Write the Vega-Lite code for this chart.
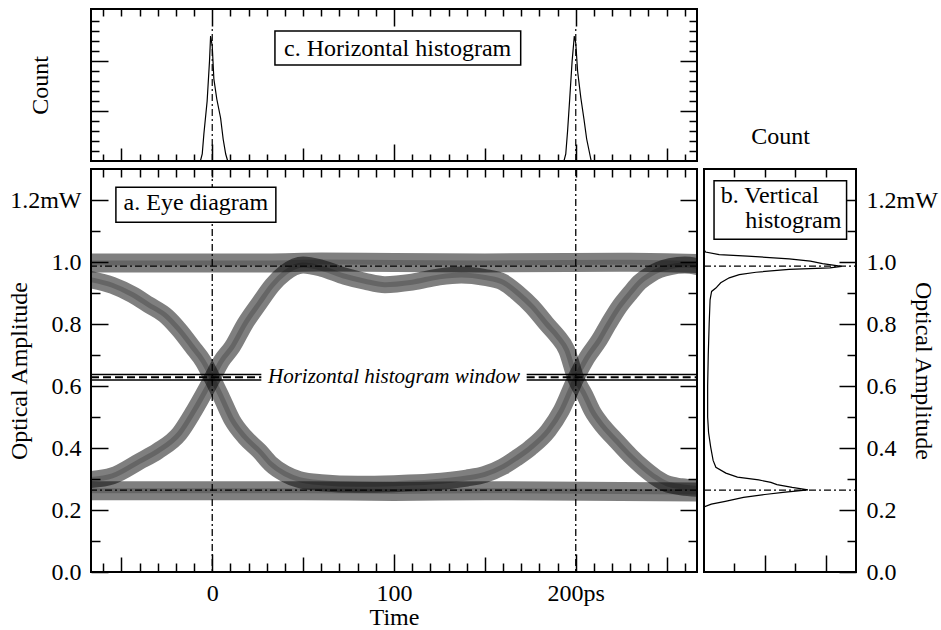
{
  "$schema": "https://vega.github.io/schema/vega-lite/v6.json",
  "background": "white",
  "padding": {"left": 6, "top": 7, "right": 0, "bottom": 0},
  "bounds": "flush",
  "spacing": 8,
  "config": {
    "font": "Liberation Serif",
    "view": {"stroke": "black", "strokeWidth": 2, "fill": "white"},
    "axis": {
      "domain": false,
      "grid": false,
      "tickColor": "black",
      "tickWidth": 1.5,
      "labelFont": "Liberation Serif",
      "labelFontSize": 24,
      "labelColor": "black",
      "labelOverlap": false,
      "labelFlush": false,
      "labelBound": false,
      "titleFont": "Liberation Serif",
      "titleFontSize": 24,
      "titleFontWeight": "normal",
      "titleColor": "black"
    }
  },
  "datasets": {
    "eye": [
      {"trace": "hi", "kind": "rail", "t": -67, "v": 0.997},
      {"trace": "hi", "kind": "rail", "t": 30, "v": 0.997},
      {"trace": "hi", "kind": "rail", "t": 60, "v": 1.0},
      {"trace": "hi", "kind": "rail", "t": 100, "v": 0.998},
      {"trace": "hi", "kind": "rail", "t": 150, "v": 0.997},
      {"trace": "hi", "kind": "rail", "t": 230, "v": 0.999},
      {"trace": "hi", "kind": "rail", "t": 267, "v": 0.995},
      {"trace": "lo", "kind": "rail", "t": -67, "v": 0.262},
      {"trace": "lo", "kind": "rail", "t": 50, "v": 0.262},
      {"trace": "lo", "kind": "rail", "t": 100, "v": 0.26},
      {"trace": "lo", "kind": "rail", "t": 150, "v": 0.262},
      {"trace": "lo", "kind": "rail", "t": 267, "v": 0.258},
      {"trace": "p1", "kind": "path", "t": -67, "v": 0.943},
      {"trace": "p1", "kind": "path", "t": -55, "v": 0.925},
      {"trace": "p1", "kind": "path", "t": -44, "v": 0.895},
      {"trace": "p1", "kind": "path", "t": -35, "v": 0.862},
      {"trace": "p1", "kind": "path", "t": -25, "v": 0.824},
      {"trace": "p1", "kind": "path", "t": -18, "v": 0.78},
      {"trace": "p1", "kind": "path", "t": -11, "v": 0.727},
      {"trace": "p1", "kind": "path", "t": -5, "v": 0.68},
      {"trace": "p1", "kind": "path", "t": 0, "v": 0.625},
      {"trace": "p1", "kind": "path", "t": 5, "v": 0.565},
      {"trace": "p1", "kind": "path", "t": 11, "v": 0.49},
      {"trace": "p1", "kind": "path", "t": 18, "v": 0.435},
      {"trace": "p1", "kind": "path", "t": 26, "v": 0.39},
      {"trace": "p1", "kind": "path", "t": 32, "v": 0.35},
      {"trace": "p1", "kind": "path", "t": 40, "v": 0.317},
      {"trace": "p1", "kind": "path", "t": 48, "v": 0.298},
      {"trace": "p1", "kind": "path", "t": 60, "v": 0.288},
      {"trace": "p1", "kind": "path", "t": 80, "v": 0.283},
      {"trace": "p1", "kind": "path", "t": 100, "v": 0.285},
      {"trace": "p1", "kind": "path", "t": 120, "v": 0.29},
      {"trace": "p1", "kind": "path", "t": 140, "v": 0.303},
      {"trace": "p1", "kind": "path", "t": 150, "v": 0.315},
      {"trace": "p1", "kind": "path", "t": 160, "v": 0.34},
      {"trace": "p1", "kind": "path", "t": 167, "v": 0.366},
      {"trace": "p1", "kind": "path", "t": 175, "v": 0.4},
      {"trace": "p1", "kind": "path", "t": 185, "v": 0.457},
      {"trace": "p1", "kind": "path", "t": 192, "v": 0.52},
      {"trace": "p1", "kind": "path", "t": 200, "v": 0.625},
      {"trace": "p1", "kind": "path", "t": 206, "v": 0.69},
      {"trace": "p1", "kind": "path", "t": 213, "v": 0.749},
      {"trace": "p1", "kind": "path", "t": 218, "v": 0.8},
      {"trace": "p1", "kind": "path", "t": 224, "v": 0.856},
      {"trace": "p1", "kind": "path", "t": 230, "v": 0.9},
      {"trace": "p1", "kind": "path", "t": 235, "v": 0.934},
      {"trace": "p1", "kind": "path", "t": 241, "v": 0.96},
      {"trace": "p1", "kind": "path", "t": 246, "v": 0.975},
      {"trace": "p1", "kind": "path", "t": 252, "v": 0.985},
      {"trace": "p1", "kind": "path", "t": 260, "v": 0.99},
      {"trace": "p1", "kind": "path", "t": 267, "v": 0.985},
      {"trace": "p2", "kind": "path", "t": -67, "v": 0.298},
      {"trace": "p2", "kind": "path", "t": -55, "v": 0.31},
      {"trace": "p2", "kind": "path", "t": -40, "v": 0.357},
      {"trace": "p2", "kind": "path", "t": -30, "v": 0.39},
      {"trace": "p2", "kind": "path", "t": -18, "v": 0.447},
      {"trace": "p2", "kind": "path", "t": -10, "v": 0.52},
      {"trace": "p2", "kind": "path", "t": 0, "v": 0.625},
      {"trace": "p2", "kind": "path", "t": 5, "v": 0.68},
      {"trace": "p2", "kind": "path", "t": 11, "v": 0.726},
      {"trace": "p2", "kind": "path", "t": 18, "v": 0.8},
      {"trace": "p2", "kind": "path", "t": 26, "v": 0.868},
      {"trace": "p2", "kind": "path", "t": 33, "v": 0.925},
      {"trace": "p2", "kind": "path", "t": 40, "v": 0.965},
      {"trace": "p2", "kind": "path", "t": 50, "v": 0.99},
      {"trace": "p2", "kind": "path", "t": 60, "v": 0.98},
      {"trace": "p2", "kind": "path", "t": 73, "v": 0.954},
      {"trace": "p2", "kind": "path", "t": 84, "v": 0.938},
      {"trace": "p2", "kind": "path", "t": 95, "v": 0.927},
      {"trace": "p2", "kind": "path", "t": 110, "v": 0.935},
      {"trace": "p2", "kind": "path", "t": 125, "v": 0.952},
      {"trace": "p2", "kind": "path", "t": 137, "v": 0.958},
      {"trace": "p2", "kind": "path", "t": 150, "v": 0.95},
      {"trace": "p2", "kind": "path", "t": 160, "v": 0.935},
      {"trace": "p2", "kind": "path", "t": 168, "v": 0.9},
      {"trace": "p2", "kind": "path", "t": 176, "v": 0.856},
      {"trace": "p2", "kind": "path", "t": 184, "v": 0.8},
      {"trace": "p2", "kind": "path", "t": 190, "v": 0.76},
      {"trace": "p2", "kind": "path", "t": 195, "v": 0.716},
      {"trace": "p2", "kind": "path", "t": 200, "v": 0.625},
      {"trace": "p2", "kind": "path", "t": 205, "v": 0.57},
      {"trace": "p2", "kind": "path", "t": 209, "v": 0.52},
      {"trace": "p2", "kind": "path", "t": 215, "v": 0.47},
      {"trace": "p2", "kind": "path", "t": 222, "v": 0.425},
      {"trace": "p2", "kind": "path", "t": 230, "v": 0.375},
      {"trace": "p2", "kind": "path", "t": 237, "v": 0.337},
      {"trace": "p2", "kind": "path", "t": 244, "v": 0.305},
      {"trace": "p2", "kind": "path", "t": 250, "v": 0.285},
      {"trace": "p2", "kind": "path", "t": 258, "v": 0.275},
      {"trace": "p2", "kind": "path", "t": 267, "v": 0.27}
    ],
    "hhist": [
      {"peak": "first", "t": -6.5, "count": 0},
      {"peak": "first", "t": -5.5, "count": 0.7},
      {"peak": "first", "t": -4.6, "count": 2.7},
      {"peak": "first", "t": -2.8, "count": 6},
      {"peak": "first", "t": -1.5, "count": 10},
      {"peak": "first", "t": -0.9, "count": 12.5},
      {"peak": "first", "t": 0, "count": 11.5},
      {"peak": "first", "t": 0.9, "count": 8.2},
      {"peak": "first", "t": 2.5, "count": 6.2},
      {"peak": "first", "t": 4.6, "count": 4.3},
      {"peak": "first", "t": 6, "count": 2.2},
      {"peak": "first", "t": 7.4, "count": 0.7},
      {"peak": "first", "t": 8.5, "count": 0},
      {"peak": "second", "t": 193.5, "count": 0},
      {"peak": "second", "t": 194.5, "count": 0.7},
      {"peak": "second", "t": 195.5, "count": 3},
      {"peak": "second", "t": 196.7, "count": 6.3},
      {"peak": "second", "t": 198, "count": 10},
      {"peak": "second", "t": 199.2, "count": 12.5},
      {"peak": "second", "t": 200, "count": 11.8},
      {"peak": "second", "t": 201, "count": 9},
      {"peak": "second", "t": 202.8, "count": 6.3},
      {"peak": "second", "t": 204.5, "count": 4.2},
      {"peak": "second", "t": 206, "count": 2.2},
      {"peak": "second", "t": 207.7, "count": 0.7},
      {"peak": "second", "t": 208.5, "count": 0}
    ],
    "vhist": [
      {"v": 1.04, "count": 0},
      {"v": 1.032, "count": 0.05},
      {"v": 1.024, "count": 0.5},
      {"v": 1.019, "count": 1.43},
      {"v": 1.01, "count": 2.8},
      {"v": 1.003, "count": 3.5},
      {"v": 0.995, "count": 3.9},
      {"v": 0.986, "count": 4.53},
      {"v": 0.981, "count": 4.14},
      {"v": 0.976, "count": 2.8},
      {"v": 0.967, "count": 1.71},
      {"v": 0.959, "count": 1.16},
      {"v": 0.949, "count": 0.83},
      {"v": 0.933, "count": 0.55},
      {"v": 0.916, "count": 0.39},
      {"v": 0.905, "count": 0.25},
      {"v": 0.878, "count": 0.2},
      {"v": 0.8, "count": 0.17},
      {"v": 0.7, "count": 0.14},
      {"v": 0.6, "count": 0.12},
      {"v": 0.5, "count": 0.12},
      {"v": 0.45, "count": 0.15},
      {"v": 0.403, "count": 0.22},
      {"v": 0.36, "count": 0.3},
      {"v": 0.338, "count": 0.39},
      {"v": 0.319, "count": 0.72},
      {"v": 0.306, "count": 1.1},
      {"v": 0.297, "count": 1.8},
      {"v": 0.289, "count": 2.2},
      {"v": 0.282, "count": 2.4},
      {"v": 0.273, "count": 2.9},
      {"v": 0.265, "count": 3.42},
      {"v": 0.257, "count": 2.6},
      {"v": 0.25, "count": 2.0},
      {"v": 0.241, "count": 1.3},
      {"v": 0.228, "count": 0.7},
      {"v": 0.219, "count": 0.24},
      {"v": 0.21, "count": 0}
    ],
    "sample_times": [{"t": 0}, {"t": 200}],
    "levels": [{"v": 0.987}, {"v": 0.264}],
    "window": [
      {"part": "edge", "t0": -66.7, "t1": 27, "v": 0.619},
      {"part": "edge", "t0": -66.7, "t1": 27, "v": 0.637},
      {"part": "mid", "t0": -66.7, "t1": 27, "v": 0.628},
      {"part": "edge", "t0": 173, "t1": 266.7, "v": 0.619},
      {"part": "edge", "t0": 173, "t1": 266.7, "v": 0.637},
      {"part": "mid", "t0": 173, "t1": 266.7, "v": 0.628}
    ],
    "boxes": [
      {"panel": "a", "x0": -53, "x1": 35, "y0": 1.128, "y1": 1.241},
      {"panel": "b", "x0": 0.33, "x1": 4.69, "y0": 1.073, "y1": 1.262},
      {"panel": "c", "x0": 34.5, "x1": 169.7, "y0": 9.6, "y1": 13}
    ],
    "captions": [
      {"panel": "a", "x": -9, "y": 1.19, "text": "a. Eye diagram"},
      {"panel": "b", "x": 0.55, "y": 1.214, "text": "b. Vertical"},
      {"panel": "b", "x": 1.36, "y": 1.132, "text": "histogram"},
      {"panel": "c", "x": 102, "y": 11.25, "text": "c. Horizontal histogram"},
      {"panel": "w", "x": 100, "y": 0.63, "text": "Horizontal histogram window"}
    ]
  },
  "vconcat": [
    {
      "width": 606,
      "height": 152,
      "layer": [
        {
          "data": {"name": "hhist"},
          "mark": {"type": "line", "color": "black", "strokeWidth": 1.2, "clip": true},
          "encoding": {
            "x": {
              "field": "t", "type": "quantitative",
              "scale": {"domain": [-66.7, 266.7], "nice": false, "zero": false},
              "axis": {
                "orient": "bottom", "labels": false, "title": null,
                "values": [-60, -50, -40, -30, -20, -10, 0, 10, 20, 30, 40, 50, 60, 70, 80, 90, 100, 110, 120, 130, 140, 150, 160, 170, 180, 190, 200, 210, 220, 230, 240, 250, 260],
                "tickSize": {"condition": [{"test": "datum.value % 100 === 0", "value": -17}, {"test": "datum.value % 50 === 0", "value": -13}], "value": -7}
              }
            },
            "y": {
              "field": "count", "type": "quantitative",
              "scale": {"domain": [0, 15.2], "nice": false},
              "axis": {
                "orient": "left", "labels": false, "title": "Count", "titlePadding": 38,
                "values": [1, 2, 3, 4, 5, 6, 7, 8, 9, 10, 11, 12, 13, 14],
                "tickSize": {"condition": {"test": "datum.value % 5 === 0", "value": -17}, "value": -8}
              }
            },
            "detail": {"field": "peak", "type": "nominal"}
          }
        },
        {
          "data": {"name": "sample_times"},
          "mark": {"type": "rule", "color": "black", "strokeWidth": 1.2, "strokeDash": [7, 3, 2, 3]},
          "encoding": {
            "x": {
              "field": "t", "type": "quantitative",
              "axis": {
                "orient": "top", "labels": false, "title": null,
                "values": [-60, -50, -40, -30, -20, -10, 0, 10, 20, 30, 40, 50, 60, 70, 80, 90, 100, 110, 120, 130, 140, 150, 160, 170, 180, 190, 200, 210, 220, 230, 240, 250, 260],
                "tickSize": {"condition": {"test": "datum.value % 100 === 0", "value": -17}, "value": -7}
              }
            },
            "y": {
              "datum": 0, "type": "quantitative",
              "axis": {
                "orient": "right", "labels": false, "title": null,
                "values": [1, 2, 3, 4, 5, 6, 7, 8, 9, 10, 11, 12, 13, 14],
                "tickSize": {"condition": {"test": "datum.value % 5 === 0", "value": -17}, "value": -8}
              }
            },
            "y2": {"datum": 13.2}
          }
        },
        {
          "data": {"name": "boxes"},
          "transform": [{"filter": "datum.panel === 'c'"}],
          "mark": {"type": "rect", "fill": "white", "stroke": "black", "strokeWidth": 1.5},
          "encoding": {
            "x": {"field": "x0", "type": "quantitative", "axis": null},
            "x2": {"field": "x1"},
            "y": {"field": "y0", "type": "quantitative", "axis": null},
            "y2": {"field": "y1"}
          }
        },
        {
          "data": {"name": "captions"},
          "transform": [{"filter": "datum.panel === 'c'"}],
          "mark": {"type": "text", "font": "Liberation Serif", "fontSize": 24, "color": "black", "align": "center", "baseline": "middle"},
          "encoding": {
            "x": {"field": "x", "type": "quantitative", "axis": null},
            "y": {"field": "y", "type": "quantitative", "axis": null},
            "text": {"field": "text"}
          }
        }
      ],
      "resolve": {"axis": {"x": "independent", "y": "independent"}}
    },
    {
      "hconcat": [
        {
          "width": 606,
          "height": 403,
          "layer": [
            {
              "data": {"name": "eye"},
              "transform": [{"filter": "datum.kind === 'rail'"}],
              "mark": {"type": "line", "color": "black", "opacity": 0.5, "strokeWidth": 19, "strokeCap": "butt", "strokeJoin": "round", "interpolate": "monotone", "clip": true},
              "encoding": {
                "x": {
                  "field": "t", "type": "quantitative",
                  "scale": {"domain": [-66.7, 266.7], "nice": false, "zero": false},
                  "axis": {
                    "orient": "bottom", "title": "Time", "titlePadding": -9, "labelPadding": 27,
                    "values": [-60, -50, -40, -30, -20, -10, 0, 10, 20, 30, 40, 50, 60, 70, 80, 90, 100, 110, 120, 130, 140, 150, 160, 170, 180, 190, 200, 210, 220, 230, 240, 250, 260],
                    "labelExpr": "datum.value === 0 ? '0' : datum.value === 100 ? '100' : datum.value === 200 ? '200ps' : ''",
                    "tickSize": {"condition": [{"test": "datum.value % 100 === 0", "value": -18}, {"test": "datum.value % 50 === 0", "value": -15}], "value": -9}
                  }
                },
                "y": {
                  "field": "v", "type": "quantitative",
                  "scale": {"domain": [0, 1.3], "nice": false},
                  "axis": {
                    "orient": "left", "title": "Optical Amplitude", "titlePadding": -22, "labelPadding": 27,
                    "values": [0, 0.1, 0.2, 0.3, 0.4, 0.5, 0.6, 0.7, 0.8, 0.9, 1.0, 1.1, 1.2],
                    "labelExpr": "round(datum.value * 10) % 2 === 0 ? (datum.value > 1.15 ? '1.2mW' : format(datum.value, '.1f')) : ''",
                    "tickSize": {"condition": {"test": "round(datum.value * 10) % 2 === 0", "value": -17}, "value": -9}
                  }
                },
                "detail": {"field": "trace", "type": "nominal"}
              }
            },
            {
              "data": {"name": "eye"},
              "transform": [{"filter": "datum.kind === 'path'"}],
              "mark": {"type": "line", "color": "black", "opacity": 0.5, "strokeWidth": 17, "strokeCap": "butt", "strokeJoin": "round", "interpolate": "monotone", "clip": true},
              "encoding": {
                "x": {"field": "t", "type": "quantitative", "axis": null},
                "y": {"field": "v", "type": "quantitative", "axis": null},
                "detail": {"field": "trace", "type": "nominal"}
              }
            },
            {
              "data": {"name": "eye"},
              "mark": {"type": "line", "color": "black", "opacity": 0.2, "strokeWidth": 5, "strokeJoin": "round", "interpolate": "monotone", "clip": true},
              "encoding": {
                "x": {"field": "t", "type": "quantitative", "axis": null},
                "y": {"field": "v", "type": "quantitative", "axis": null},
                "detail": {"field": "trace", "type": "nominal"}
              }
            },
            {
              "data": {"name": "levels"},
              "mark": {"type": "rule", "color": "black", "strokeWidth": 1.3, "strokeDash": [7, 3, 2, 3]},
              "encoding": {
                "y": {
                  "field": "v", "type": "quantitative",
                  "axis": {
                    "orient": "right", "labels": false, "title": null,
                    "values": [0.1, 0.2, 0.3, 0.4, 0.5, 0.6, 0.7, 0.8, 0.9, 1.0, 1.1, 1.2],
                    "tickSize": {"condition": {"test": "round(datum.value * 10) % 2 === 0", "value": -17}, "value": -9}
                  }
                }
              }
            },
            {
              "data": {"name": "sample_times"},
              "mark": {"type": "rule", "color": "black", "strokeWidth": 1.3, "strokeDash": [7, 3, 2, 3]},
              "encoding": {
                "x": {
                  "field": "t", "type": "quantitative",
                  "axis": {
                    "orient": "top", "labels": false, "title": null,
                    "values": [-60, -50, -40, -30, -20, -10, 0, 10, 20, 30, 40, 50, 60, 70, 80, 90, 100, 110, 120, 130, 140, 150, 160, 170, 180, 190, 200, 210, 220, 230, 240, 250, 260],
                    "tickSize": -8
                  }
                }
              }
            },
            {
              "data": {"name": "window"},
              "transform": [{"filter": "datum.part === 'edge'"}],
              "mark": {"type": "rule", "color": "black", "strokeWidth": 1.5},
              "encoding": {
                "x": {"field": "t0", "type": "quantitative", "axis": null},
                "x2": {"field": "t1"},
                "y": {"field": "v", "type": "quantitative", "axis": null}
              }
            },
            {
              "data": {"name": "window"},
              "transform": [{"filter": "datum.part === 'mid'"}],
              "mark": {"type": "rule", "color": "black", "strokeWidth": 2, "strokeDash": [8, 4]},
              "encoding": {
                "x": {"field": "t0", "type": "quantitative", "axis": null},
                "x2": {"field": "t1"},
                "y": {"field": "v", "type": "quantitative", "axis": null}
              }
            },
            {
              "data": {"name": "captions"},
              "transform": [{"filter": "datum.panel === 'w'"}],
              "mark": {"type": "text", "font": "Liberation Serif", "fontSize": 21, "fontStyle": "italic", "color": "black", "align": "center", "baseline": "middle"},
              "encoding": {
                "x": {"field": "x", "type": "quantitative", "axis": null},
                "y": {"field": "y", "type": "quantitative", "axis": null},
                "text": {"field": "text"}
              }
            },
            {
              "data": {"name": "boxes"},
              "transform": [{"filter": "datum.panel === 'a'"}],
              "mark": {"type": "rect", "fill": "white", "stroke": "black", "strokeWidth": 1.5},
              "encoding": {
                "x": {"field": "x0", "type": "quantitative", "axis": null},
                "x2": {"field": "x1"},
                "y": {"field": "y0", "type": "quantitative", "axis": null},
                "y2": {"field": "y1"}
              }
            },
            {
              "data": {"name": "captions"},
              "transform": [{"filter": "datum.panel === 'a'"}],
              "mark": {"type": "text", "font": "Liberation Serif", "fontSize": 24, "color": "black", "align": "center", "baseline": "middle"},
              "encoding": {
                "x": {"field": "x", "type": "quantitative", "axis": null},
                "y": {"field": "y", "type": "quantitative", "axis": null},
                "text": {"field": "text"}
              }
            }
          ],
          "resolve": {"axis": {"x": "independent", "y": "independent"}}
        },
        {
          "width": 152,
          "height": 403,
          "layer": [
            {
              "data": {"name": "vhist"},
              "mark": {"type": "line", "color": "black", "strokeWidth": 1.2, "clip": true},
              "encoding": {
                "x": {
                  "field": "count", "type": "quantitative",
                  "scale": {"domain": [0, 5], "nice": false},
                  "axis": {
                    "orient": "top", "labels": false, "title": "Count", "titlePadding": 20,
                    "values": [1, 2, 3, 4], "tickSize": -8
                  }
                },
                "y": {
                  "field": "v", "type": "quantitative",
                  "scale": {"domain": [0, 1.3], "nice": false},
                  "axis": {
                    "orient": "right", "title": "Optical Amplitude", "titlePadding": -27, "labelPadding": 27,
                    "values": [0, 0.1, 0.2, 0.3, 0.4, 0.5, 0.6, 0.7, 0.8, 0.9, 1.0, 1.1, 1.2],
                    "labelExpr": "round(datum.value * 10) % 2 === 0 ? (datum.value > 1.15 ? '1.2mW' : format(datum.value, '.1f')) : ''",
                    "tickSize": {"condition": {"test": "round(datum.value * 10) % 2 === 0", "value": -17}, "value": -9}
                  }
                },
                "order": {"field": "v", "type": "quantitative"}
              }
            },
            {
              "data": {"name": "levels"},
              "mark": {"type": "rule", "color": "black", "strokeWidth": 1.2, "strokeDash": [7, 3, 2, 3]},
              "encoding": {
                "x": {
                  "datum": 0, "type": "quantitative",
                  "axis": {
                    "orient": "bottom", "labels": false, "title": null,
                    "values": [1, 2, 3, 4],
                    "tickSize": {"condition": {"test": "datum.value % 2 === 0", "value": -17}, "value": -9}
                  }
                },
                "x2": {"datum": 5},
                "y": {"field": "v", "type": "quantitative", "axis": null}
              }
            },
            {
              "data": {"name": "boxes"},
              "transform": [{"filter": "datum.panel === 'b'"}],
              "mark": {"type": "rect", "fill": "white", "stroke": "black", "strokeWidth": 1.5},
              "encoding": {
                "x": {"field": "x0", "type": "quantitative", "axis": null},
                "x2": {"field": "x1"},
                "y": {"field": "y0", "type": "quantitative", "axis": null},
                "y2": {"field": "y1"}
              }
            },
            {
              "data": {"name": "captions"},
              "transform": [{"filter": "datum.panel === 'b'"}],
              "mark": {"type": "text", "font": "Liberation Serif", "fontSize": 24, "color": "black", "align": "left", "baseline": "middle"},
              "encoding": {
                "x": {"field": "x", "type": "quantitative", "axis": null},
                "y": {"field": "y", "type": "quantitative", "axis": null},
                "text": {"field": "text"}
              }
            }
          ],
          "resolve": {"axis": {"x": "independent", "y": "independent"}}
        }
      ],
      "spacing": 7,
      "bounds": "flush"
    }
  ]
}
